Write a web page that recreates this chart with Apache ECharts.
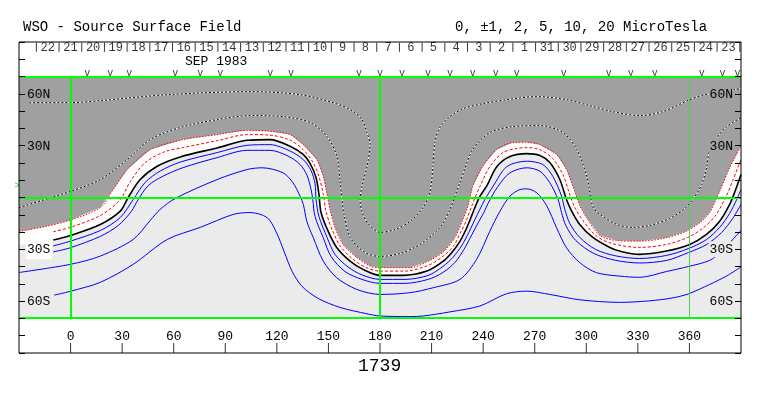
<!DOCTYPE html>
<html><head><meta charset="utf-8">
<script src="https://cdn.jsdelivr.net/npm/echarts@6/dist/echarts.min.js"></script>
<style>html,body{margin:0;padding:0;background:#fff}#c{width:763px;height:396px}</style>
</head><body><div id="c"></div>
<script>
// ---- data (longitude deg, latitude deg) ----
const grayEdge = [[-30,-19.7],[-14.7,-16.8],[-0.2,-13.1],[17.3,-5.8],[24.8,4.6],[33.0,16.2],[46.3,27.7],[65.5,33.5],[85.3,36.4],[102.7,38.9],[116.0,38.3],[127.7,36.4],[135.3,30.6],[143.2,22.0],[147.0,12.3],[149.0,2.7],[150.9,-6.9],[153.8,-17.3],[158.5,-27.2],[166.5,-34.7],[174.2,-39.7],[180.0,-40.6],[197.4,-40.6],[209.0,-36.4],[217.2,-31.2],[223.6,-23.1],[228.2,-12.7],[231.1,-5.2],[234.0,6.5],[239.8,18.1],[247.8,27.7],[257.3,31.8],[265.3,32.0],[273.0,30.6],[282.7,24.9],[288.5,16.2],[292.2,6.5],[296.2,-4.6],[300.1,-11.6],[307.9,-22.0],[317.6,-24.9],[331.1,-25.3],[346.6,-23.3],[358.2,-19.5],[366.0,-14.6],[371.8,-8.7],[377.6,3.6],[383.4,17.3],[387.3,24.9],[390,30.1]];
const negOne = [[-10.1,-19.8],[-0.2,-17.3],[17.3,-10.4],[28.9,-1.2],[34.7,9.2],[43.4,20.2],[55.0,26.6],[65.5,28.9],[85.3,32.9],[102.7,36.4],[116.0,36.1],[127.7,33.2],[135.3,27.7],[141.1,20.2],[144.5,12.1],[146.9,2.3],[148.6,-8.1],[152.1,-18.5],[156.8,-28.0],[164.3,-35.8],[171.9,-40.5],[180.0,-42.6],[194.5,-42.6],[208.0,-39.3],[216.6,-34.1],[223.0,-27.7],[227.1,-19.7],[230.0,-13.9],[233.5,-4.6],[238.1,6.4],[243.9,17.9],[251.5,26.0],[259.0,28.3],[265.4,28.9],[273.0,27.7],[280.5,22.5],[286.4,13.3],[289.8,3.5],[293.3,-5.8],[298.0,-13.3],[305.5,-22.0],[314.8,-26.6],[331.1,-28.9],[346.6,-27.2],[359.0,-23.1],[367.7,-17.9],[374.7,-11.0],[380.5,-1.2],[385.2,9.8],[390,22.0]];
const neutralWest = [[-30,-27.5]];
const neutral = [[-10.1,-24.6],[-0.2,-22.0],[17.3,-15.6],[28.9,-7.9],[33.5,0],[40.5,10.4],[50.4,18.1],[63.8,23.5],[85.3,28.7],[102.7,33.1],[116.0,33.5],[127.7,29.7],[135.3,24.9],[139.3,19.7],[142.8,11.6],[144.5,1.7],[145.7,-8.7],[149.8,-19.5],[154.8,-28.9],[162.6,-36.8],[170.1,-41.6],[180.0,-45.1],[193.4,-45.1],[207.3,-42.6],[216.6,-37.0],[221.8,-31.8],[226.5,-25.4],[230.0,-18.5],[232.9,-11.6],[235.2,-5.8],[238.1,0.6],[242.2,6.9],[248.0,17.9],[255.6,23.7],[265.4,25.4],[273.0,24.3],[278.8,20.2],[284.6,10.4],[288.5,-1.2],[291.0,-6.9],[296.2,-15.6],[303.8,-23.1],[313.7,-28.9],[319.4,-31.0],[331.1,-32.9],[346.6,-31.0],[360.2,-27.2],[369.9,-21.4],[377.6,-13.7],[383.4,-4.0],[386.9,4.6],[390,13.3]];
const posOne = [[-10.1,-28.0],[-0.2,-25.3],[17.3,-19.1],[28.9,-11.6],[36.4,-1.2],[43.4,8.7],[52.1,15.3],[63.8,20.5],[85.3,26.0],[102.7,30.2],[116.0,30.6],[127.7,26.9],[135.3,22.0],[139.9,15.6],[142.2,8.1],[142.8,-1.2],[144.5,-11.0],[149.2,-23.1],[153.8,-32.9],[161.4,-40.2],[169.5,-44.8],[180.0,-47.4],[194.5,-47.4],[208.0,-45.1],[216.6,-39.9],[222.4,-34.7],[227.6,-27.7],[231.7,-20.2],[235.2,-12.7],[238.1,-6.9],[241.0,-1.2],[245.7,6.4],[253.8,17.9],[265.4,21.0],[274.7,19.1],[280.5,12.3],[285.6,0.8],[287.5,-6.9],[290.4,-15.0],[296.2,-23.1],[305.5,-30.1],[317.2,-33.8],[331.1,-35.3],[346.8,-33.5],[359.6,-29.5],[370.0,-24.3],[377.6,-17.3],[383.4,-9.2],[387.5,-1.2],[390,4.6]];
const posTwo = [[-10.1,-31.5],[-0.2,-29.1],[17.3,-22.5],[27.7,-16.2],[35.3,-8.1],[39.3,-1.2],[45.2,6.9],[53.3,12.1],[65.5,17.3],[85.3,23.1],[102.7,27.3],[116.0,27.3],[126.5,24.0],[133.5,19.1],[137.6,12.7],[139.9,4.6],[140.9,-1.2],[142.2,-11.0],[147.0,-23.3],[151.5,-34.1],[159.6,-42.8],[169.5,-47.4],[180.0,-49.7],[194.5,-49.7],[208.0,-47.4],[216.6,-43.4],[223.6,-37.6],[228.8,-30.1],[233.5,-21.4],[237.5,-13.9],[240.4,-8.7],[242.8,-3.5],[248.6,6.4],[255.6,14.3],[265.4,17.2],[273.0,15.2],[278.8,8.5],[283.6,-1.2],[285.6,-8.7],[288.1,-16.2],[293.9,-24.9],[304.4,-32.4],[317.2,-36.4],[331.1,-37.9],[346.8,-36.4],[359.6,-31.8],[370.0,-27.2],[378.8,-20.2],[385.2,-12.1],[390,-4.0]];
const posFive = [[-30,-43.4],[-0.2,-38.7],[17.3,-33.9],[36.4,-24.3],[46.3,-13.3],[52.1,-6.9],[60.8,-0.6],[85.3,10.4],[102.7,16.2],[111.4,17.2],[123.6,14.3],[129.4,8.5],[133.5,0.8],[135.4,-4.0],[137.4,-13.7],[141.2,-23.3],[147.0,-36.8],[154.8,-46.4],[166.5,-53.2],[180.0,-56.1],[197.4,-55.1],[211.0,-52.2],[226.5,-47.4],[236.2,-35.8],[243.9,-19.5],[249.7,-8.1],[255.6,0.8],[261.4,4.6],[265.4,5.0],[271.2,2.7],[276.9,-4.6],[282.7,-17.5],[288.5,-29.1],[296.2,-37.7],[305.9,-43.5],[319.4,-45.5],[331.1,-46.2],[346.8,-42.8],[359.6,-39.9],[371.8,-36.4],[378.8,-31.2],[385.2,-24.3],[390,-19.1]];
const posTen = [[-9.5,-56.5],[-0.2,-54.3],[17.3,-49.1],[36.4,-38.7],[56.2,-24.3],[75.4,-17.3],[94.6,-9.8],[104.4,-8.7],[114.3,-11.6],[119.5,-19.7],[124.2,-31.2],[128.9,-42.8],[134.6,-51.4],[144.0,-58.4],[156.7,-63.6],[172.4,-67.3],[180.0,-68.6],[197.4,-68.9],[205.0,-68.6],[220.7,-66.2],[238.1,-62.8],[253.6,-55.7],[265.4,-54.2],[278.8,-56.1],[296.2,-59.2],[319.4,-60.7],[336.9,-59.8],[350.3,-58.1],[359.6,-55.7],[371.8,-50.3],[381.5,-45.5],[390,-40.2]];
const negTen = [[-24.0,54.9],[-0.2,54.9],[17.3,56.1],[56.2,59.5],[104.4,61.3],[133.5,59.5],[152.7,54.9],[163.7,50.3],[169.5,45.1],[172.4,37.6],[174.2,30.6],[172.4,17.9],[169.5,6.4],[168.4,-1.2],[169.5,-8.1],[173.0,-15.0],[180.0,-20.2],[188.7,-18.5],[197.4,-13.9],[205.0,-5.8],[209.0,2.9],[210.8,17.9],[211.9,31.8],[214.8,40.5],[220.7,46.8],[228.2,51.4],[239.8,54.3],[253.8,56.6],[271.2,58.4],[288.6,56.6],[302.0,53.2],[315.4,49.7],[331.1,47.4],[344.5,49.7],[360.2,56.6],[368.9,59.5],[390,63.0]];
const negFive = [[-30,-5.8],[-0.2,3.5],[17.3,10.4],[33.0,22.0],[46.3,33.5],[63.8,40.5],[85.3,45.1],[104.4,47.4],[123.6,46.8],[139.3,43.4],[149.2,35.3],[155.0,23.7],[156.7,10.4],[157.9,-1.2],[159.1,-9.8],[162.6,-23.1],[171.3,-31.8],[180.0,-34.1],[191.6,-32.4],[203.2,-27.2],[214.9,-17.3],[220.7,-6.9],[226.5,8.7],[234.0,27.7],[243.9,37.6],[257.3,41.0],[273.0,41.6],[286.4,37.6],[294.5,27.7],[300.3,12.1],[303.8,-5.2],[307.9,-9.8],[317.8,-15.6],[327.0,-17.3],[336.9,-16.2],[348.5,-12.1],[356.7,-6.9],[361.9,-1.2],[367.1,7.5],[370.0,17.3],[371.8,27.7],[376.5,35.3],[381.7,41.0],[390,46.2]];
const gridLon = [0, 180, 360];
const gridLat = [70, 0, -70];
const lonTickValues = [0, 30, 60, 90, 120, 150, 180, 210, 240, 270, 300, 330, 360];
const dayTickLon = [-19.9,-6.7,6.5,19.7,32.9,46.1,59.3,72.5,85.7,98.9,112.1,125.3,138.5,151.7,164.9,178.1,191.3,204.5,217.7,230.9,244.1,257.3,270.5,283.7,296.9,310.1,323.3,336.5,349.7,362.9,376.1,389.3];
const dayLabels = ['22','21','20','19','18','17','16','15','14','13','12','11','10','9','8','7','6','5','4','3','2','1','31','30','29','28','27','26','25','24','23'];
const obsLon = [9.7,23.1,34.1,60.9,75.4,87.0,116.1,128.3,167.8,180.0,192.8,207.9,220.7,234.0,247.4,259.6,286.9,313.1,325.9,339.8,367.1,379.3,388.0];
const lonTicks = {min:-30, max:390, step:30};
const latTicks = {min:-90, max:90, step:10};
const plotLat = {min:-70, max:70};
const b0Mark = [[-31, 7]];

// ---- chart ----
const MONO = '"Liberation Mono", "DejaVu Sans Mono", monospace';
const DARK = '#a0a0a0', LIGHT = '#ebebeb';

function fillPoly(edge, color) {
  return {type:'custom', coordinateSystem:'cartesian2d', silent:true, z:1, clip:true, data:[0],
    renderItem:function(params, api){
      const pts = edge.map(p => api.coord(p));
      pts.push(api.coord([lonTicks.max, plotLat.max]));
      pts.push(api.coord([lonTicks.min, plotLat.max]));
      return {type:'polygon', shape:{points:pts}, style:{fill:color}};
    }};
}
function bgRect(color) {
  return {type:'custom', coordinateSystem:'cartesian2d', silent:true, z:1, clip:true, data:[0],
    renderItem:function(params, api){
      const a = api.coord([lonTicks.min, plotLat.max]), b = api.coord([lonTicks.max, plotLat.min]);
      return {type:'rect', shape:{x:a[0], y:a[1], width:b[0]-a[0], height:b[1]-a[1]}, style:{fill:color}};
    }};
}
function contour(data, color, width, type, z) {
  return {type:'line', data:data, showSymbol:false, symbol:'none', smooth:0.3, silent:true, z:z||2, clip:true,
    lineStyle:{color:color, width:width, type:type||'solid'}};
}

const series = [
  bgRect(LIGHT),
  fillPoly(neutralWest.concat(neutral), '#ffffff'),
  fillPoly(grayEdge, DARK),
  contour(negTen, '#ffffff', 1),
  contour(negTen, '#000000', 1, [2,2]),
  contour(negFive, '#ffffff', 1),
  contour(negFive, '#000000', 1, [2,2]),
  contour(posTen, '#0000ff', 1),
  contour(posFive, '#0000ff', 1),
  contour(posTwo, '#0000ff', 1),
  contour(posOne, '#0000ff', 1),
  contour(grayEdge, '#ff0000', 1, [1.5,1.5]),
  contour(negOne, '#ff0000', 1, [3,2]),
  contour(neutral, '#000000', 1.6)
];
// green reference lines (latitude 70/0/-70, longitude 0/180/360)
series.push({type:'custom', coordinateSystem:'cartesian2d', silent:true, z:7, clip:false,
  data:gridLat.map(l => [l]),
  renderItem:function(params, api){
    const lat = api.value(0);
    const a = api.coord([lonTicks.min, lat]), b = api.coord([lonTicks.max, lat]);
    return {type:'rect', shape:{x:a[0] + 1, y:Math.floor(a[1] - 0.5), width:b[0]-a[0] - 1, height:2}, style:{fill:'#00ff00'}};
  }});
series.push({type:'custom', coordinateSystem:'cartesian2d', silent:true, z:7, clip:false,
  data:gridLon.map(l => [l]),
  renderItem:function(params, api){
    const lon = api.value(0);
    const a = api.coord([lon, plotLat.max]), b = api.coord([lon, plotLat.min]);
    const last = params.dataIndex === 2;
    return {type:'rect', shape:{x:Math.floor(a[0] - (last ? 0 : 0.5)), y:a[1], width:last ? 1 : 2, height:b[1]-a[1]},
      style:{fill: last ? '#4fcf4f' : '#00ff00'}};
  }});
// bottom longitude ticks
series.push({type:'scatter', data:lonTickValues.map(l => [l, -87.1]), symbol:'rect', symbolSize:[1,10], silent:true, z:8,
  itemStyle:{color:'#000'}});
// day boundary ticks on the top strip
series.push({type:'scatter', data:dayTickLon.map(l => [l, 86.9]), symbol:'rect', symbolSize:[1,9], silent:true, z:4,
  itemStyle:{color:'#000'}});
// day labels centred between ticks
const dayMid = dayLabels.map((d, i) => [(dayTickLon[i] + dayTickLon[i+1]) / 2, 86.6]);
series.push({type:'scatter', data:dayMid, symbolSize:1, silent:true, z:4, itemStyle:{color:'transparent'},
  label:{show:true, position:'inside', formatter:p => dayLabels[p.dataIndex], fontFamily:MONO, fontSize:12, color:'#000'}});
// observation marks
series.push({type:'scatter', data:obsLon.map(l => [l, 71.6]), symbolSize:1, silent:true, z:4, itemStyle:{color:'transparent'},
  label:{show:true, position:'inside', formatter:'v', fontFamily:MONO, fontSize:10, color:'#000'}});
series.push({type:'scatter', data:b0Mark, symbolSize:1, silent:true, z:4, clip:false, itemStyle:{color:'transparent'},
  label:{show:true, position:'inside', formatter:'>', fontFamily:MONO, fontSize:9, color:'#00c000'}});

function latLabel(side) {
  const bgs = side === 'left'
    ? {'60':'g','30':'g','-30':'w','-60':'l'}
    : {'60':'g','30':'g','-30':'l','-60':'l'};
  return function(v){
    if (Math.abs(v) !== 30 && Math.abs(v) !== 60) return '';
    const t = Math.abs(v) + (v > 0 ? 'N' : 'S');
    return '{' + bgs[String(v)] + '|' + t + '}';
  };
}
const richSt = {
  g:{backgroundColor:DARK, padding:[2,1,1,1], fontFamily:MONO, fontSize:13, color:'#000'},
  w:{backgroundColor:'#ffffff', padding:[4,2,3,1], fontFamily:MONO, fontSize:13, color:'#000'},
  l:{backgroundColor:LIGHT, padding:[2,1,1,1], fontFamily:MONO, fontSize:13, color:'#000'}
};
function yAx(pos) {
  return {type:'value', min:latTicks.min, max:latTicks.max, interval:latTicks.step, position:pos, z:9,
    axisLine:{show:false, onZero:false}, splitLine:{show:false},
    axisTick:{show:true, inside:true, length:6, lineStyle:{color:'#000', width:1}},
    axisLabel:{inside:true, margin:7, formatter:latLabel(pos), rich:richSt, fontFamily:MONO, fontSize:13, color:'#000'}};
}

const option = {
  animation:false,
  backgroundColor:'#ffffff',
  grid:{left:19, right:22, top:42, bottom:43, show:true, borderColor:'#000', borderWidth:1, backgroundColor:'transparent', z:9, containLabel:false, outerBoundsMode:'none'},
  xAxis:{type:'value', min:lonTicks.min, max:lonTicks.max, interval:lonTicks.step, position:'bottom', z:9,
    axisLine:{show:false, onZero:false}, splitLine:{show:false},
    axisTick:{show:false},
    axisLabel:{inside:true, margin:10, fontFamily:MONO, fontSize:13, color:'#000',
      formatter:function(v){ return (v < 0 || v > 360) ? '' : String(v); }}},
  yAxis:[yAx('left'), yAx('right')],
  graphic:[
    {type:'text', left:23, top:20, z:10, style:{text:'WSO - Source Surface Field', font:'14px ' + MONO, fill:'#000'}},
    {type:'text', left:455, top:20, z:10, style:{text:'0, \u00b11, 2, 5, 10, 20 MicroTesla', font:'14px ' + MONO, fill:'#000'}},
    {type:'text', left:185, top:55, z:10, style:{text:'SEP 1983', font:'13px ' + MONO, fill:'#000'}},
    {type:'text', left:358, top:357, z:10, style:{text:'1739', font:'18px ' + MONO, fill:'#000'}}
  ],
  series:series
};
const chart = echarts.init(document.getElementById('c'), null, {renderer:'canvas'});
chart.setOption(option);
</script>
</body></html>
